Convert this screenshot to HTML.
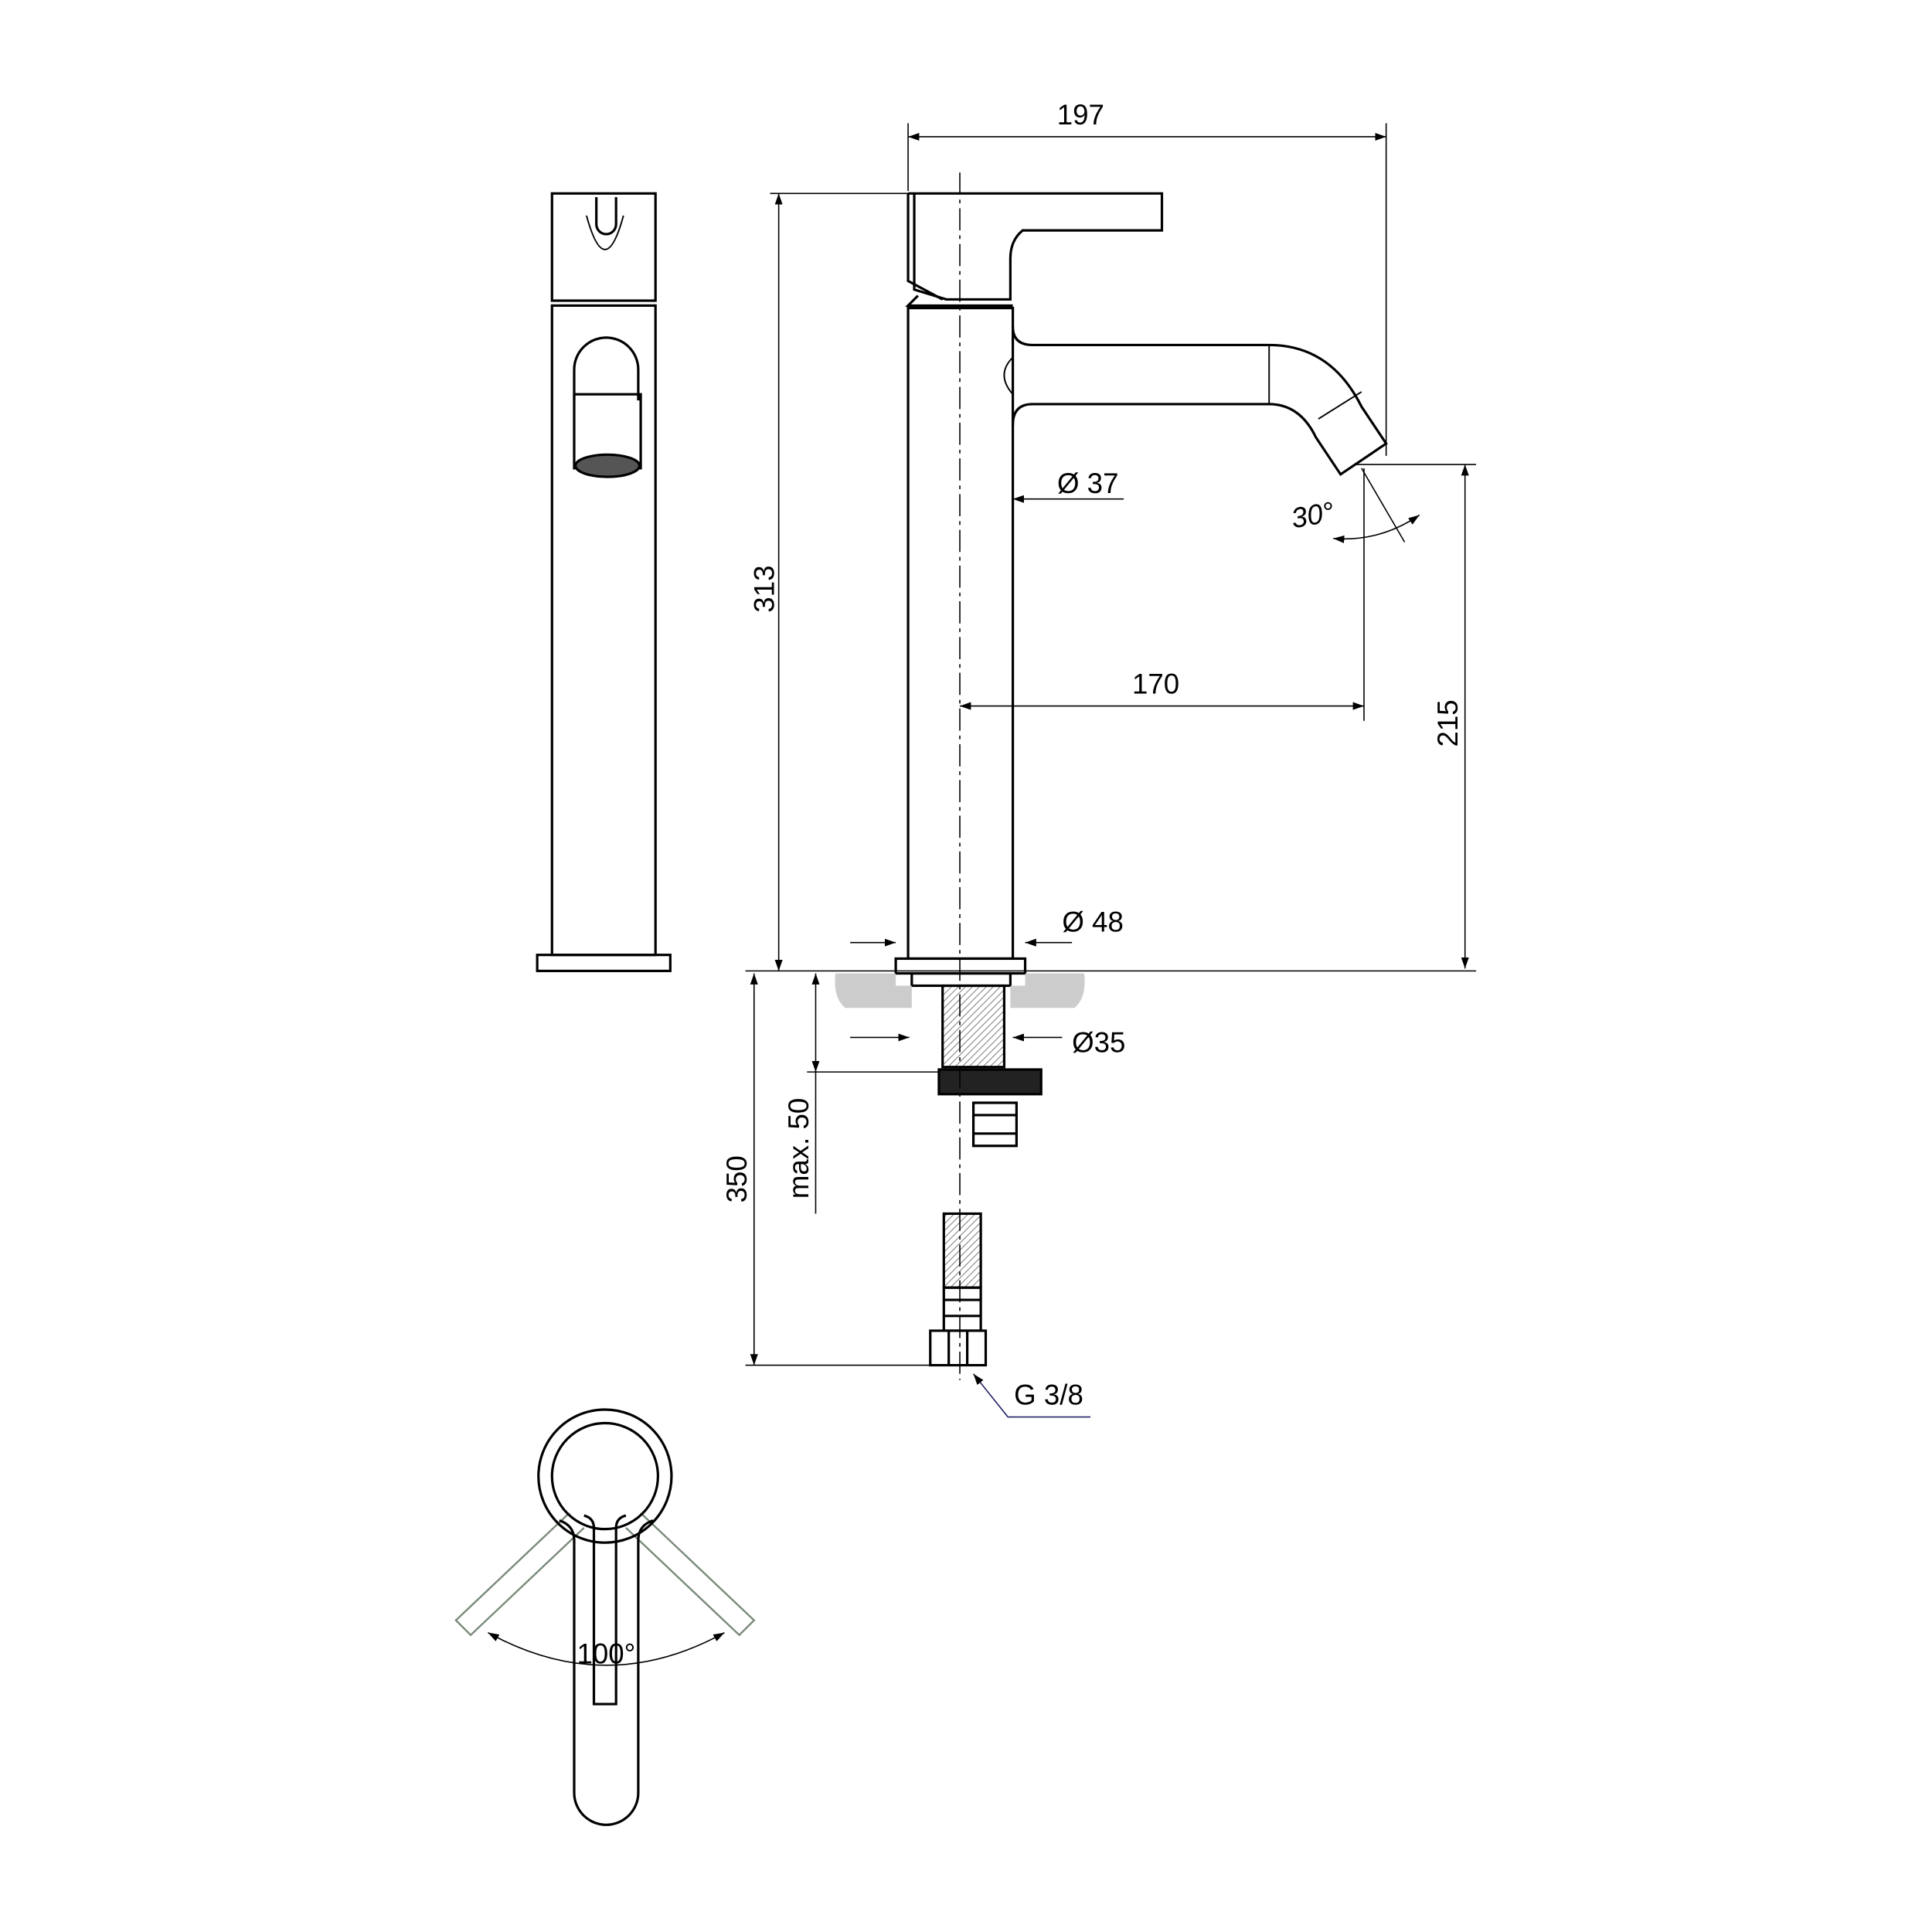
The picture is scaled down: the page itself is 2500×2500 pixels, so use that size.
<!DOCTYPE html>
<html><head><meta charset="utf-8"><style>html,body{margin:0;padding:0;background:#fff}svg{display:block}</style></head>
<body>
<svg width="2500" height="2500" viewBox="0 0 1568 1568" xmlns="http://www.w3.org/2000/svg" font-family="Liberation Sans, sans-serif">
<defs>
<marker id="a" viewBox="0 0 10 10" refX="10" refY="5" markerWidth="9" markerHeight="9" orient="auto-start-reverse" markerUnits="userSpaceOnUse"><path d="M0,1.5 L10,5 L0,8.5 z" fill="#000"/></marker>
<pattern id="h" width="4" height="4" patternUnits="userSpaceOnUse" patternTransform="rotate(45)"><line x1="0" y1="0" x2="0" y2="4" stroke="#777" stroke-width="1.2"/></pattern>
</defs>
<rect width="1568" height="1568" fill="#fff"/>
<g fill="none" stroke="#000" stroke-width="2">
<!-- side view -->
<rect x="448" y="157" width="84" height="87"/>
<path d="M484,160 v22 a8,8 0 0 0 16,0 v-22" />
<path d="M476,175 q15,55 30,0" stroke-width="1.2"/>
<rect x="448" y="248" width="84" height="527"/>
<path d="M466,325 v-25 a26,26 0 0 1 52,0 v25"/>
<rect x="466" y="320" width="54" height="60"/>
<ellipse cx="493" cy="378" rx="26" ry="9" fill="#555"/>
<rect x="436" y="775" width="108" height="13"/>
<!-- main body -->
<path d="M737,157 H943 V187 H830 Q820,195 820,210 V243 H768 L742,235 V157"/>
<path d="M737,157 V228 L765,243"/>
<rect x="737" y="250" width="85" height="528"/>
<path d="M745,240 L737,248 H822"/>
<path d="M822,265 Q822,280 838,280 H1030 Q1080,280 1105,330 L1125,360 L1088,385 L1068,355 Q1055,328 1030,328 H838 Q822,328 822,345"/>
<path d="M822,290 Q808,304 822,320" stroke-width="1.2"/>
<line x1="1030" y1="280" x2="1030" y2="328" stroke-width="1.2"/>
<line x1="1070" y1="340" x2="1105" y2="318" stroke-width="1.2"/>
<rect x="727" y="778" width="105" height="12"/>
<rect x="740" y="790" width="80" height="10"/>
</g>
<!-- countertop -->
<path d="M678,790 H727 V800 H740 V818 H686 Q676,810 678,790 z" fill="#ccc"/>
<path d="M832,790 H880 Q882,810 872,818 H820 V800 H832 z" fill="#ccc"/>
<g fill="none" stroke="#000" stroke-width="2">
<rect x="765" y="800" width="50" height="66" fill="url(#h)"/>
<rect x="762" y="868" width="83" height="20" fill="#222"/>
<path d="M790,895 h35 v35 h-35 z M790,905 h35 M790,920 h35"/>
<rect x="766" y="985" width="30" height="60" fill="url(#h)"/>
<path d="M766,1045 h30 v35 h-30 z M766,1055 h30 M766,1068 h30"/>
<path d="M755,1080 h45 v28 h-45 z M770,1080 v28 M785,1080 v28"/>
</g>
<!-- centerline -->
<line x1="779" y1="140" x2="779" y2="1120" stroke="#000" stroke-width="1" stroke-dasharray="18,4,3,4"/>
<!-- dimensions -->
<g stroke="#000" stroke-width="1" fill="none">
<line x1="737" y1="100" x2="737" y2="155"/><line x1="1125" y1="100" x2="1125" y2="370"/>
<line x1="737" y1="111" x2="1125" y2="111" marker-start="url(#a)" marker-end="url(#a)"/>
<line x1="625" y1="157" x2="737" y2="157"/>
<line x1="632" y1="157" x2="632" y2="788" marker-start="url(#a)" marker-end="url(#a)"/>
<line x1="605" y1="788" x2="1198" y2="788"/>
<line x1="1100" y1="377" x2="1198" y2="377"/>
<line x1="1189" y1="377" x2="1189" y2="786" marker-start="url(#a)" marker-end="url(#a)"/>
<line x1="1107" y1="380" x2="1107" y2="585"/>
<line x1="779" y1="573" x2="1107" y2="573" marker-start="url(#a)" marker-end="url(#a)"/>
<line x1="1105" y1="380" x2="1140" y2="440"/>
<path d="M1082,437 Q1120,440 1152,418" marker-start="url(#a)" marker-end="url(#a)"/>
<line x1="612" y1="790" x2="612" y2="1108" marker-start="url(#a)" marker-end="url(#a)"/>
<line x1="605" y1="1108" x2="755" y2="1108"/>
<line x1="662" y1="790" x2="662" y2="870" marker-start="url(#a)" marker-end="url(#a)"/>
<line x1="655" y1="870" x2="762" y2="870"/>
<line x1="662" y1="870" x2="662" y2="985"/>
<line x1="912" y1="405" x2="822" y2="405" marker-end="url(#a)"/>
<line x1="690" y1="765" x2="727" y2="765" marker-end="url(#a)"/>
<line x1="870" y1="765" x2="832" y2="765" marker-end="url(#a)"/>
<line x1="690" y1="842" x2="738" y2="842" marker-end="url(#a)"/>
<line x1="862" y1="842" x2="822" y2="842" marker-end="url(#a)"/>
<polyline points="885,1150 818,1150 790,1115" stroke="#226" marker-end="url(#a)"/>
</g>
<g font-size="23" fill="#000">
<text x="877" y="101" text-anchor="middle">197</text>
<text x="938" y="563" text-anchor="middle">170</text>
<text x="858" y="400">Ø 37</text>
<text x="862" y="756">Ø 48</text>
<text x="870" y="854">Ø35</text>
<text x="823" y="1140">G 3/8</text>
<text x="1048" y="425" font-style="italic" transform="rotate(-10 1070 418)">30°</text>
<text x="492" y="1350" text-anchor="middle">100°</text>
<text transform="translate(628,478) rotate(-90)" text-anchor="middle">313</text>
<text transform="translate(1183,587) rotate(-90)" text-anchor="middle">215</text>
<text transform="translate(606,957) rotate(-90)" text-anchor="middle">350</text>
<text transform="translate(656,932) rotate(-90)" text-anchor="middle">max. 50</text>
</g>
<!-- top view -->
<g fill="none" stroke-width="2">
<g stroke="#7a8a7a" stroke-width="1.5">
<path d="M462,1228 L370,1315 L382,1327 L474,1240"/>
<path d="M520,1228 L612,1315 L600,1327 L508,1240"/>
</g>
<circle cx="491" cy="1198" r="54" stroke="#000"/>
<circle cx="491" cy="1198" r="43" stroke="#000"/>
<path d="M466,1250 V1455 a26,26 0 0 0 52,0 V1250 Q518,1238 530,1234 M466,1250 Q466,1238 454,1234" stroke="#000"/>
<path d="M482,1240 V1383 H500 V1240 Q500,1232 508,1230 M482,1240 Q482,1232 474,1230" stroke="#000"/>
<path d="M396,1325 Q492,1378 588,1325" stroke="#000" stroke-width="1" marker-start="url(#a)" marker-end="url(#a)"/>
</g>
</svg>
</body></html>
